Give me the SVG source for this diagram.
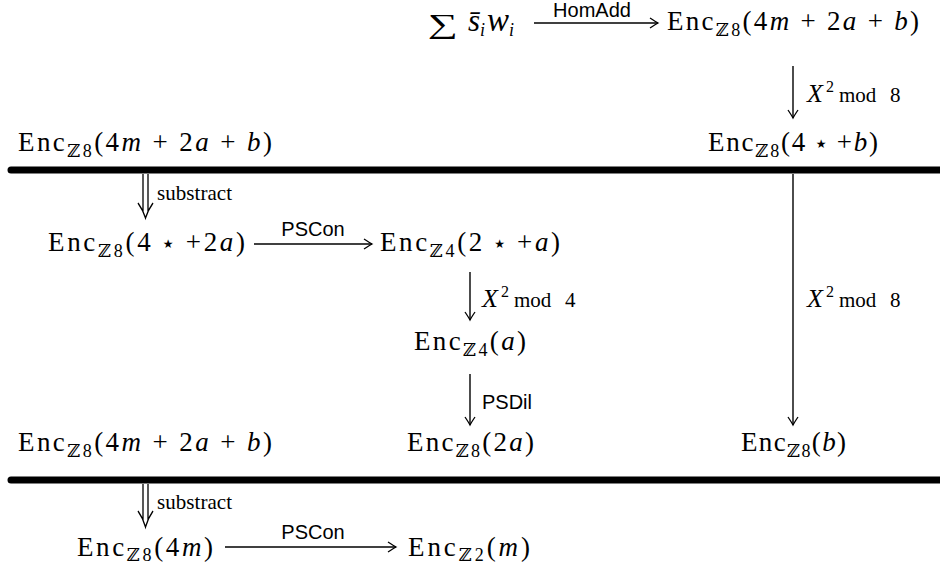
<svg xmlns="http://www.w3.org/2000/svg" width="940" height="564" viewBox="0 0 940 564">
  <style>
    .m { font-family: "Liberation Serif", "DejaVu Serif", serif; font-size: 27px; fill: #000; }
    .i { font-style: italic; }
    .sub { font-size: 18px; }
    .lbl { font-family: "Liberation Sans", Arial, sans-serif; font-size: 20px; fill: #000; }
    .ml { font-family: "Liberation Serif", "DejaVu Serif", serif; font-size: 21px; fill: #000; }
    .x { font-size: 26px; font-style: italic; }
    .sup { font-size: 16px; }
    .star { font-family: "DejaVu Sans", sans-serif; font-size: 12px; }
    .arr { stroke: #000; stroke-width: 1.4; fill: none; marker-end: url(#head); }
    .dbl { stroke: #000; stroke-width: 1.3; fill: none; }
    .bar { stroke: #000; stroke-width: 7; stroke-linecap: round; }
  </style>
  <defs>
    <marker id="head" viewBox="-10 -6 12 12" refX="0" refY="0" markerWidth="12" markerHeight="12" markerUnits="userSpaceOnUse" orient="auto">
      <path d="M -8,-5 Q -2,-1 0,0 Q -2,1 -8,5" fill="none" stroke="#000" stroke-width="1.3"/>
    </marker>
  </defs>

  <!-- separator bars -->
  <g id="bars">
    <line class="bar" x1="11" y1="170" x2="945" y2="170"/>
    <line class="bar" x1="11" y1="480" x2="945" y2="480"/>
  </g>

  <!-- nodes: left column centred near x=146, middle x=470, right x=793 -->
  <g id="sum">
    <text class="m" x="428" y="33" font-family="DejaVu Serif, serif" font-size="32" textLength="30" lengthAdjust="spacingAndGlyphs">∑</text>
    <text class="m" x="468" y="31"><tspan class="i" font-size="31">s̄</tspan><tspan class="sub i" dy="5">i</tspan><tspan class="i" font-size="33" dx="2" dy="-5">w</tspan><tspan class="sub i" dy="5">i</tspan></text>
  </g>
  <g id="enc-top">
    <text class="m" x="667" y="30" textLength="252">Enc<tspan class="sub" dy="6">ℤ8</tspan><tspan dy="-6">(4</tspan><tspan class="i">m</tspan> + 2<tspan class="i">a</tspan> + <tspan class="i">b</tspan>)</text>
  </g>
  <g id="enc-4star-b">
    <text class="m" x="708" y="151" textLength="170">Enc<tspan class="sub" dy="6">ℤ8</tspan><tspan dy="-6">(4 </tspan><tspan class="star" dy="-3">★</tspan><tspan dy="3"> +</tspan><tspan class="i">b</tspan>)</text>
  </g>
  <g id="enc-left-1">
    <text class="m" x="18" y="151" textLength="254">Enc<tspan class="sub" dy="6">ℤ8</tspan><tspan dy="-6">(4</tspan><tspan class="i">m</tspan> + 2<tspan class="i">a</tspan> + <tspan class="i">b</tspan>)</text>
  </g>
  <g id="enc-4star-2a">
    <text class="m" x="48" y="251" textLength="197">Enc<tspan class="sub" dy="6">ℤ8</tspan><tspan dy="-6">(4 </tspan><tspan class="star" dy="-3">★</tspan><tspan dy="3"> +2</tspan><tspan class="i">a</tspan>)</text>
  </g>
  <g id="enc-2star-a">
    <text class="m" x="380" y="251" textLength="180">Enc<tspan class="sub" dy="6">ℤ4</tspan><tspan dy="-6">(2 </tspan><tspan class="star" dy="-3">★</tspan><tspan dy="3"> +</tspan><tspan class="i">a</tspan>)</text>
  </g>
  <g id="enc-a">
    <text class="m" x="414" y="350" textLength="112">Enc<tspan class="sub" dy="6">ℤ4</tspan><tspan dy="-6">(</tspan><tspan class="i">a</tspan>)</text>
  </g>
  <g id="enc-left-2">
    <text class="m" x="18" y="451" textLength="254">Enc<tspan class="sub" dy="6">ℤ8</tspan><tspan dy="-6">(4</tspan><tspan class="i">m</tspan> + 2<tspan class="i">a</tspan> + <tspan class="i">b</tspan>)</text>
  </g>
  <g id="enc-2a">
    <text class="m" x="407" y="451" textLength="127">Enc<tspan class="sub" dy="6">ℤ8</tspan><tspan dy="-6">(2</tspan><tspan class="i">a</tspan>)</text>
  </g>
  <g id="enc-b">
    <text class="m" x="741" y="451" textLength="105">Enc<tspan class="sub" dy="6">ℤ8</tspan><tspan dy="-6">(</tspan><tspan class="i">b</tspan>)</text>
  </g>
  <g id="enc-4m">
    <text class="m" x="77" y="556" textLength="136">Enc<tspan class="sub" dy="5">ℤ8</tspan><tspan dy="-5">(4</tspan><tspan class="i">m</tspan>)</text>
  </g>
  <g id="enc-m">
    <text class="m" x="408" y="556" textLength="122">Enc<tspan class="sub" dy="5">ℤ2</tspan><tspan dy="-5">(</tspan><tspan class="i">m</tspan>)</text>
  </g>

  <!-- connectors -->
  <g id="connectors">
    <line class="arr" x1="534" y1="23" x2="658" y2="23"/>
    <text class="lbl" x="592" y="17" text-anchor="middle">HomAdd</text>

    <line class="arr" x1="793" y1="66" x2="793" y2="118"/>
    <text class="ml" y="102"><tspan class="x" x="807">X</tspan><tspan class="sup" x="826" dy="-10">2</tspan><tspan x="839" dy="10">mod</tspan><tspan x="890">8</tspan></text>

    <line class="arr" x1="793" y1="174" x2="793" y2="425"/>
    <text class="ml" y="307"><tspan class="x" x="807">X</tspan><tspan class="sup" x="826" dy="-10">2</tspan><tspan x="839" dy="10">mod</tspan><tspan x="890">8</tspan></text>

    <path class="dbl" d="M 143,174 V 212 M 148,174 V 212 M 138,203 Q 143,210 145.5,218 Q 148,210 153,203"/>
    <text class="ml" x="157" y="200" font-size="20" textLength="75">substract</text>

    <line class="arr" x1="254" y1="244" x2="372" y2="244"/>
    <text class="lbl" x="313" y="236" text-anchor="middle">PSCon</text>

    <line class="arr" x1="470" y1="272" x2="470" y2="320"/>
    <text class="ml" y="307"><tspan class="x" x="482">X</tspan><tspan class="sup" x="501" dy="-10">2</tspan><tspan x="514" dy="10">mod</tspan><tspan x="565">4</tspan></text>

    <line class="arr" x1="470" y1="374" x2="470" y2="425"/>
    <text class="lbl" x="482" y="409">PSDil</text>

    <path class="dbl" d="M 143,484 V 520 M 148,484 V 520 M 138,511 Q 143,518 145.5,527 Q 148,518 153,511"/>
    <text class="ml" x="157" y="509" font-size="20" textLength="75">substract</text>

    <line class="arr" x1="225" y1="547" x2="396" y2="547"/>
    <text class="lbl" x="313" y="539" text-anchor="middle">PSCon</text>
  </g>
</svg>
